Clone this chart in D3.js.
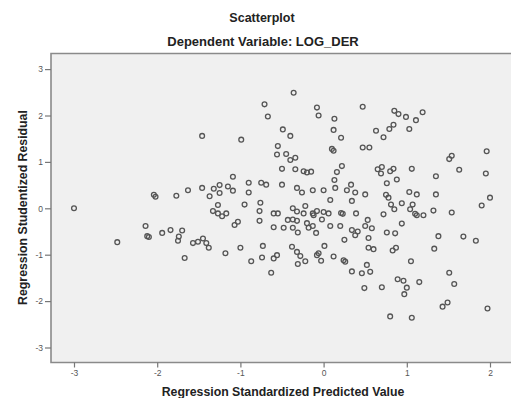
<!DOCTYPE html>
<html>
<head>
<meta charset="utf-8">
<script src="https://cdn.jsdelivr.net/npm/d3@7"></script>
<style>
  body { margin: 0; background: #fff; }
  #chart text { font-family: Arial, "Liberation Sans", sans-serif; }
</style>
</head>
<body>
<div id="chart"></div>
<script>
// Regression standardized predicted value (x) and studentized residual (y)
const predicted = [
  -1.46, -2.04, -2.02, -1.77, -1.63, -1.46, -1.37,
  -3.00, -2.14, -2.12, -2.10, -2.48, -1.94, -1.84, -1.70, -1.74, -1.75, -1.57, -1.51, -1.45, -1.41, -1.38, -1.67,
  -0.36, -0.71, -0.67, -0.08, -0.06, 0.13, 0.12, 0.21, -0.49, -0.40, -0.99, -0.55, -0.56, -0.45, -0.40, -0.34,
  0.10, 0.12, -0.50, -0.34, -0.24, -0.20, -0.15, 0.22, 0.16, 0.13, 0.14, -1.09, -1.32, -1.25, -1.15, -1.09,
  -1.25, -0.90, -0.90, -0.75, -0.69, -0.50, -0.32, -0.26, -0.13, 0.00, 0.28, 0.33, 0.38, 0.08,
  0.34, -1.27, -0.95, -0.76, -1.33, -1.27, -1.22, -1.17, -0.77, -0.77, -0.60, -0.55, -0.37, -0.32, -0.22,
  -0.24, -0.13, -0.12, -0.08, 0.00, 0.06, 0.21, 0.23, 0.39, -0.43, -0.37, -0.32, -1.07, -1.03, -0.60, -0.48,
  -0.37, -0.31, -0.20, -0.18, -0.13, -0.09, -0.02, 0.08, 0.20, 0.34, 0.41, 0.38, 0.25, -1.18, -1.00, -0.87,
  -0.73, -0.74, -0.60, -0.56, -0.63, -0.38, -0.32, -0.28, -0.22, -0.31, -0.08, -0.06, -0.03, 0.01, 0.12,
  0.24, 0.26, 0.34,
  0.47, 0.85, 0.90, 0.99, 1.11, 1.19, 1.03, 0.84, 0.79, 0.63, 0.72, 0.47, 0.55, 1.54, 1.51, 1.96, 1.63, 1.95,
  1.35, 1.06, 0.65, 0.70, 0.69, 0.80, 0.84, 0.88, 0.76, 0.50, 0.75, 0.78, 1.03, 1.12, 1.35, 2.00,
  0.81, 0.85, 0.94, 1.07, 1.04, 1.10, 1.12, 1.20, 1.32, 1.54, 1.90, 0.72, 0.53, 0.50, 0.58, 0.54, 0.76, 0.86,
  0.94, 1.38, 1.68, 1.83, 0.54, 0.60, 0.83, 0.87, 1.33, 1.05, 0.52, 0.46, 0.56, 0.49, 0.70, 0.89, 0.96, 1.00,
  0.97, 1.15, 1.51, 1.57, 1.43, 1.49, 0.80, 1.06, 1.97
];
const residual = [
  1.56, 0.29, 0.25, 0.27, 0.39, 0.44, 0.26,
  0.00, -0.38, -0.60, -0.62, -0.73, -0.53, -0.47, -0.48, -0.61, -0.70, -0.75, -0.72, -0.65, -0.75, -0.85, -1.07,
  2.49, 2.24, 1.98, 2.17, 2.00, 1.93, 1.69, 1.52, 1.70, 1.56, 1.48, 1.34, 1.16, 1.17, 1.04, 1.09,
  1.28, 1.24, 0.85, 0.84, 0.80, 0.77, 0.79, 0.91, 0.78, 0.61, 0.44, 0.68, 0.42, 0.50, 0.47, 0.38,
  0.33, 0.55, 0.34, 0.55, 0.51, 0.51, 0.44, 0.34, 0.39, 0.39, 0.39, 0.51, 0.34, 0.18,
  0.16, 0.07, 0.08, 0.12, -0.06, -0.11, -0.17, -0.11, -0.06, -0.27, -0.11, -0.11, 0.00, -0.07, 0.05,
  -0.11, -0.11, -0.15, -0.06, -0.08, -0.11, -0.10, -0.12, -0.11, -0.25, -0.24, -0.27, -0.36, -0.29, -0.41, -0.42,
  -0.42, -0.52, -0.32, -0.42, -0.38, -0.53, -0.24, -0.38, -0.38, -0.47, -0.50, -0.58, -0.68, -0.97, -0.85, -1.14,
  -0.81, -1.06, -1.08, -1.01, -1.39, -0.83, -0.94, -1.03, -1.14, -1.20, -1.01, -0.97, -1.13, -0.81, -1.04,
  -1.12, -1.15, -1.36,
  2.19, 2.10, 2.03, 1.97, 1.90, 2.07, 1.71, 1.80, 1.71, 1.67, 1.53, 1.31, 1.31, 1.13, 1.06, 1.23, 0.83, 0.75,
  0.69, 0.85, 0.84, 0.89, 0.75, 0.80, 0.85, 0.62, 0.54, 0.30, 0.29, 0.23, 0.35, 0.30, 0.30, 0.23,
  0.08, -0.02, 0.11, 0.08, -0.02, -0.12, -0.15, -0.15, -0.05, -0.09, 0.06, -0.13, -0.25, -0.38, -0.43, -0.64, -0.52, -0.54,
  -0.33, -0.60, -0.61, -0.70, -0.85, -0.88, -0.91, -0.85, -0.87, -1.14, -1.22, -1.40, -1.37, -1.72, -1.70, -1.53, -1.56, -1.71,
  -1.85, -1.59, -1.39, -1.63, -2.12, -2.03, -2.33, -2.36, -2.16
];
const xTicks = [-3, -2, -1, 0, 1, 2];
const yTicks = [-3, -2, -1, 0, 1, 2, 3];

const points = predicted.map((p, i) => ({ x: p, y: residual[i] }));

const width = 511, height = 398;
const plot = { left: 51, top: 53.5, right: 520, bottom: 362.5 };

const svg = d3.select('#chart')
  .append('svg')
  .attr('width', width)
  .attr('height', height);

// scales: tick -3 sits at 74px, tick 2 at 490px; y tick 3 at 69px, -3 at 347.5px
const x = d3.scaleLinear().domain([-3, 2]).range([74, 490]);
const y = d3.scaleLinear().domain([-3, 3]).range([347.5, 69.1]);

// plot background
svg.append('rect')
  .attr('x', plot.left)
  .attr('y', plot.top)
  .attr('width', plot.right - plot.left)
  .attr('height', plot.bottom - plot.top)
  .attr('fill', '#f0f0f0');

// frame (only top, left, bottom show inside the crop)
svg.append('path')
  .attr('d', `M${plot.right},${plot.top}H${plot.left}V${plot.bottom}H${plot.right}`)
  .attr('fill', 'none')
  .attr('stroke', '#8a8a8a')
  .attr('stroke-width', 1.6);

// Y axis
const yAxis = svg.append('g')
  .attr('transform', `translate(${plot.left},0)`)
  .call(d3.axisLeft(y).tickValues(yTicks).tickSize(6).tickPadding(2).tickFormat(d => String(d)));
yAxis.select('.domain').remove();
yAxis.selectAll('line').attr('stroke', '#777').attr('stroke-width', 1.2);
yAxis.selectAll('text').attr('fill', '#555').style('font-size', '8.5px');

// X axis
const xAxis = svg.append('g')
  .attr('transform', `translate(0,${plot.bottom})`)
  .call(d3.axisBottom(x).tickValues(xTicks).tickSize(5).tickPadding(2).tickFormat(d => String(d)));
xAxis.select('.domain').remove();
xAxis.selectAll('line').attr('stroke', '#777').attr('stroke-width', 1.2);
xAxis.selectAll('text').attr('fill', '#555').style('font-size', '8.5px');

// points
svg.append('g')
  .selectAll('circle')
  .data(points)
  .enter()
  .append('circle')
  .attr('cx', d => x(d.x))
  .attr('cy', d => y(d.y))
  .attr('r', 2.4)
  .attr('fill', 'none')
  .attr('stroke', '#555')
  .attr('stroke-width', 1.3);

// titles
svg.append('text')
  .attr('x', 262)
  .attr('y', 22)
  .attr('text-anchor', 'middle')
  .style('font-size', '12.5px')
  .style('font-weight', 'bold')
  .attr('fill', '#222')
  .text('Scatterplot');

svg.append('text')
  .attr('x', 263)
  .attr('y', 46)
  .attr('text-anchor', 'middle')
  .style('font-size', '13px')
  .style('font-weight', 'bold')
  .attr('fill', '#222')
  .text('Dependent Variable: LOG_DER');

// axis labels
svg.append('text')
  .attr('x', 283)
  .attr('y', 396)
  .attr('text-anchor', 'middle')
  .style('font-size', '12.3px')
  .style('font-weight', 'bold')
  .attr('fill', '#222')
  .text('Regression Standardized Predicted Value');

svg.append('text')
  .attr('transform', 'translate(27,207.5) rotate(-90)')
  .attr('text-anchor', 'middle')
  .style('font-size', '12.3px')
  .style('font-weight', 'bold')
  .attr('fill', '#222')
  .text('Regression Studentized Residual');
</script>
</body>
</html>
